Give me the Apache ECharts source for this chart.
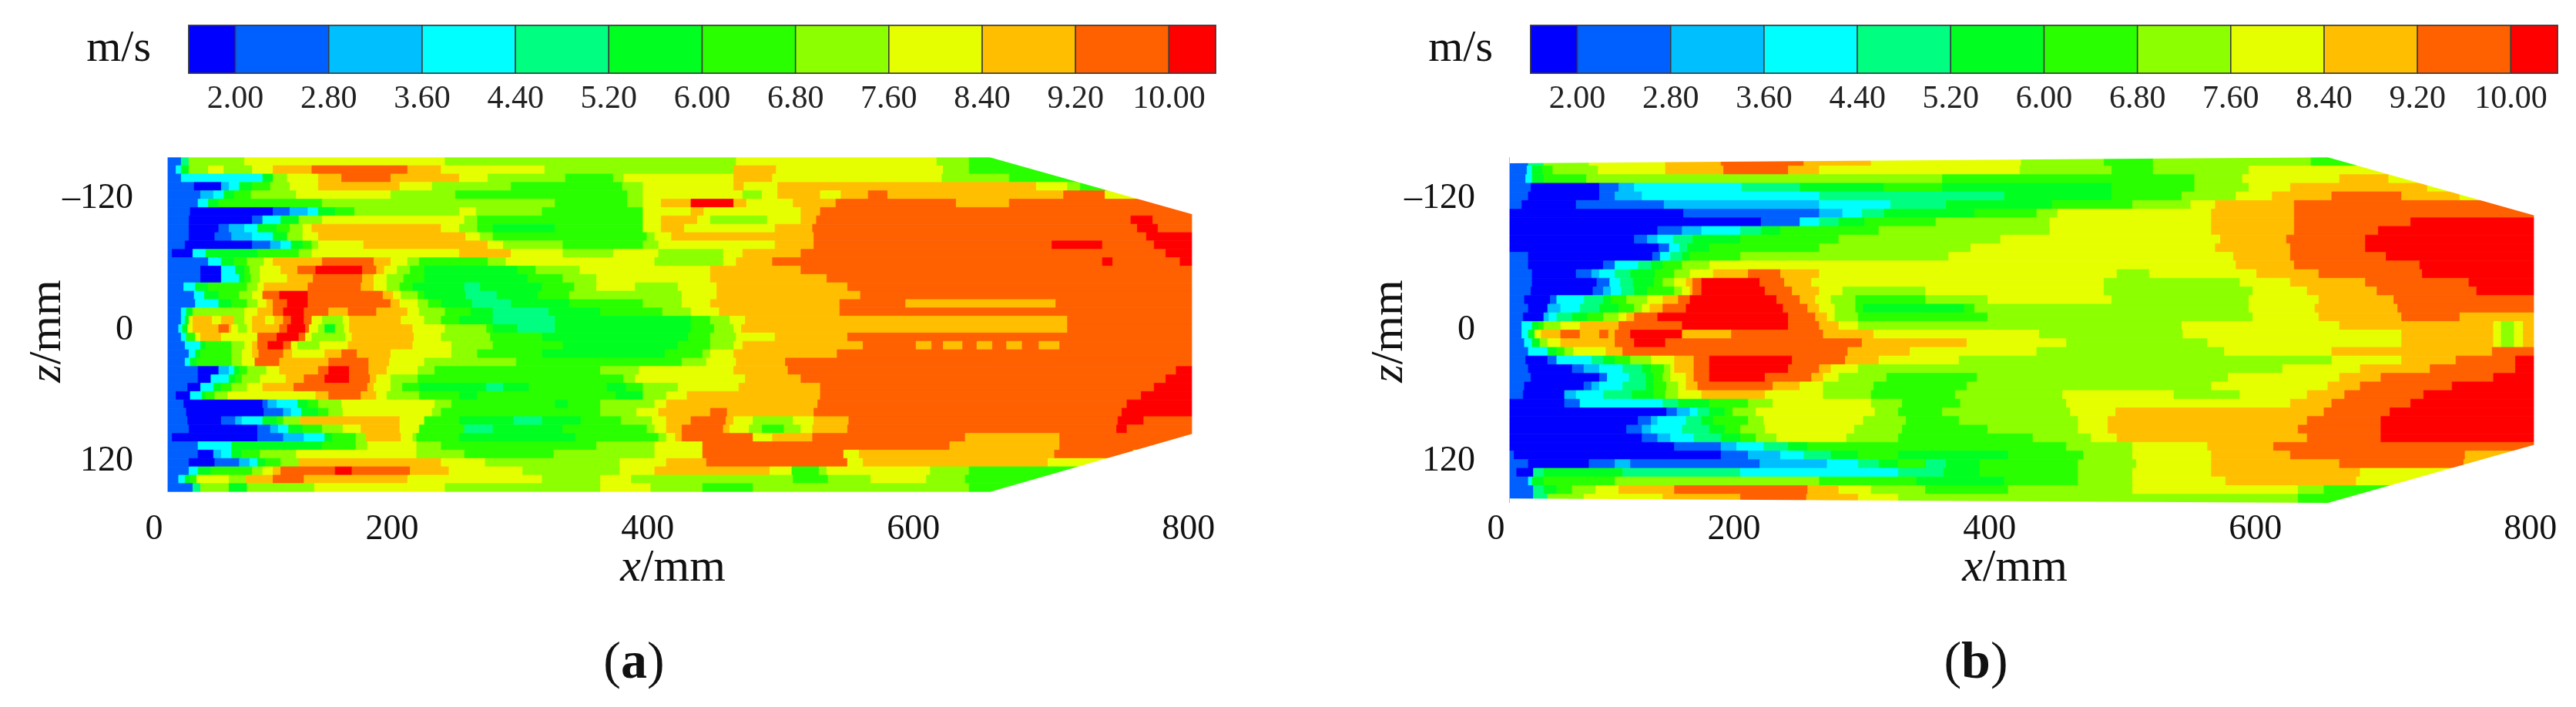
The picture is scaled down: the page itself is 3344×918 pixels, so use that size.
<!DOCTYPE html>
<html>
<head>
<meta charset="utf-8">
<title>velocity contours</title>
<script src="https://cdn.jsdelivr.net/npm/echarts@6/dist/echarts.min.js"></script>
<style>
html, body { margin: 0; padding: 0; background: #fff; }
#main { width: 3344px; height: 918px; filter: blur(0.7px); }
</style>
</head>
<body>
<div id="main"></div>
<script>
// colour bar
const bandEdges = [1.6, 2, 2.8, 3.6, 4.4, 5.2, 6, 6.8, 7.6, 8.4, 9.2, 10, 10.4];
const bandSpeeds = [1.8, 2.4, 3.2, 4, 4.8, 5.6, 6.4, 7.2, 8, 8.8, 9.6, 10.2];
const bandColors = ['#0000ff', '#0060ff', '#00bfff', '#00ffff', '#00ff80', '#00ff20', '#2aff00', '#8cff00', '#e6ff00', '#ffbf00', '#ff6000', '#ff0000'];
const barTicks = [2, 2.8, 3.6, 4.4, 5.2, 6, 6.8, 7.6, 8.4, 9.2, 10];
const xTicks = [0, 200, 400, 600, 800];
const zTicks = [-120, 0, 120];

// nozzle outline, mm
const outlineXA = [10.7, 646, 802];
const outlineTopA = [-158, -158, -106];
const outlineBottomA = [148, 148, 95];
const outlineXB = [10.7, 643, 802];
const outlineTopB = [-152.5, -158, -105];
const outlineBottomB = [154, 158, 105];

// speed, one scan row per line from top to bottom: band, x where it ends, band, x where it ends ...
const scanA = [
  [1,21,4,27,7,70,8,225,7,450,8,605,7,630,6,802],
  [1,17,3,21,5,27,7,42,8,54,7,76,8,92,9,122,10,196,9,222,8,302,7,448,9,481,8,610,7,630,6,802],
  [1,21,3,84,5,92,7,103,8,127,9,145,10,183,9,236,8,258,7,318,6,355,7,363,8,448,9,478,8,609,7,661,6,802],
  [1,31,0,52,2,58,3,66,5,76,6,90,7,105,8,127,9,190,8,215,7,276,6,362,7,378,8,448,9,456,8,482,9,682,8,706,7,716,6,802],
  [1,36,2,46,3,54,5,62,6,75,7,110,8,183,7,233,6,366,7,378,8,455,7,470,8,482,9,515,8,531,9,552,10,567,9,703,10,735,8,802],
  [1,34,3,42,5,50,6,130,7,310,6,366,7,378,8,392,9,415,11,448,9,458,8,494,9,527,10,620,9,661,10,802],
  [1,28,0,92,1,105,2,119,3,127,5,140,6,155,7,236,8,249,7,300,6,378,8,415,9,425,8,500,9,515,10,802],
  [1,27,0,76,1,84,3,98,5,112,7,130,8,240,7,250,6,378,8,392,9,420,8,430,7,474,8,500,9,512,10,755,11,772,10,802],
  [1,27,0,50,1,58,2,70,3,80,5,95,6,105,7,115,8,122,9,222,8,236,7,250,6,262,5,310,6,378,8,392,9,410,8,480,9,509,10,760,11,776,10,802],
  [1,27,0,47,1,60,2,76,3,92,5,103,7,115,8,127,9,241,8,252,7,262,6,381,7,387,8,400,9,510,10,767,11,802],
  [1,24,0,76,1,90,2,98,3,106,5,115,6,122,7,127,8,162,9,258,8,270,7,316,6,378,7,390,8,480,9,510,10,694,11,733,10,773,11,802],
  [1,14,0,30,3,40,5,80,6,112,7,122,8,236,9,276,8,316,7,355,8,390,7,440,8,455,9,500,10,782,11,802],
  [1,42,3,52,5,62,6,72,7,85,8,92,9,130,10,170,9,183,8,196,7,205,6,258,7,272,8,387,7,440,8,450,9,478,10,733,11,741,10,793,11,802],
  [1,36,0,52,3,63,5,70,6,74,7,82,8,98,9,111,10,125,11,161,10,172,9,178,8,188,7,198,6,209,5,281,6,295,7,329,8,430,9,500,10,802],
  [1,36,0,52,3,66,5,70,6,75,7,82,8,103,9,123,10,161,9,170,8,180,7,193,6,209,5,289,6,316,7,342,8,430,9,520,10,802],
  [1,23,3,32,5,42,6,72,7,80,8,85,9,119,10,160,9,170,8,180,7,190,6,200,5,240,4,252,5,300,6,325,7,342,8,372,7,405,8,435,9,536,10,802],
  [1,31,3,39,5,50,6,66,7,76,8,84,10,97,11,119,10,177,9,185,8,191,7,204,6,209,5,241,4,265,5,297,6,321,7,408,8,435,9,546,10,802],
  [1,32,3,50,5,60,6,72,7,80,8,87,9,92,10,103,11,119,10,183,9,190,8,204,7,212,6,222,5,246,4,276,5,321,6,378,7,408,8,430,9,530,10,581,9,697,10,802],
  [1,21,3,25,5,30,7,70,8,80,9,92,10,100,11,116,10,135,9,150,10,172,9,196,8,205,7,225,6,245,5,262,4,305,5,345,6,393,7,415,8,437,9,530,10,802],
  [1,21,3,24,5,27,8,30,9,45,8,52,9,62,7,70,8,76,9,86,8,93,9,100,10,106,11,116,10,122,8,130,7,146,8,151,9,191,8,209,7,222,6,236,5,262,4,310,5,415,6,430,7,445,8,457,9,706,10,802],
  [1,19,3,22,5,26,8,30,9,50,10,58,9,60,8,65,7,72,8,76,9,97,10,103,11,117,10,120,8,127,7,132,5,140,7,147,8,151,9,200,8,225,7,257,6,262,5,281,4,310,5,415,6,433,7,448,8,454,9,706,10,802],
  [1,21,3,25,6,32,8,36,9,52,8,80,10,95,11,112,10,117,8,122,7,148,8,153,9,201,8,222,7,260,6,300,5,413,6,430,7,450,8,480,9,536,10,802],
  [1,24,3,36,5,40,6,60,7,70,8,76,9,80,10,88,11,100,10,106,8,111,7,128,8,150,9,200,8,230,7,262,6,316,5,405,6,430,7,448,8,455,9,548,10,589,9,601,10,610,9,625,10,636,9,648,10,659,9,671,10,684,9,700,10,802],
  [1,27,3,32,5,36,6,60,7,68,8,76,9,81,10,100,9,107,8,132,9,145,10,157,9,183,8,230,7,250,6,300,5,395,6,424,7,430,8,448,9,528,10,802],
  [1,24,3,28,5,33,6,60,7,68,8,78,10,97,9,135,10,166,9,182,8,209,7,280,6,408,7,427,8,450,9,488,10,802],
  [1,34,0,50,2,58,3,62,5,66,6,72,7,87,8,97,9,127,10,135,11,151,10,166,9,180,8,204,7,217,6,345,7,375,8,448,9,490,10,790,11,802],
  [1,34,0,44,3,58,5,63,6,68,7,82,8,102,9,116,10,132,11,151,10,167,9,172,8,183,7,204,6,363,7,372,8,457,9,500,10,782,11,802],
  [1,26,0,36,3,46,5,52,6,60,7,72,8,84,9,108,10,165,9,170,8,183,7,192,6,205,5,257,4,270,5,290,6,350,5,365,6,378,7,405,8,452,9,515,10,773,11,802],
  [1,17,0,28,3,37,5,40,6,47,7,57,8,125,9,135,10,160,9,172,8,180,7,205,6,236,5,250,6,357,5,378,7,396,8,412,9,515,10,763,11,802],
  [1,23,0,84,1,88,2,95,3,111,5,119,6,127,7,145,8,217,7,230,6,310,5,320,6,345,7,387,8,396,9,513,10,752,11,802],
  [1,25,0,85,1,100,2,106,3,114,5,127,6,135,7,146,8,215,7,222,6,345,7,373,8,390,9,430,10,443,9,510,10,748,11,802],
  [1,26,0,52,1,63,2,68,3,84,5,95,6,100,7,113,9,190,8,209,6,236,5,278,4,300,5,330,6,361,7,385,8,396,9,415,10,442,9,448,8,463,7,494,8,510,9,537,10,745,11,765,10,802],
  [1,27,0,80,1,90,2,96,3,104,5,115,6,130,7,146,8,160,9,190,8,205,6,240,4,262,5,316,6,381,7,387,8,396,9,408,10,440,9,445,8,460,7,470,6,487,7,500,8,509,9,536,10,744,11,752,10,802],
  [1,14,0,80,1,100,2,116,3,132,5,138,6,156,7,164,9,191,8,200,7,203,6,236,5,326,6,390,7,396,8,403,9,408,10,463,8,478,9,509,10,627,9,700,10,802],
  [1,34,3,60,5,130,6,156,7,165,8,203,7,222,6,342,7,387,8,424,10,615,9,700,10,802],
  [1,34,0,46,2,52,3,60,5,68,6,82,7,110,8,203,7,240,6,309,7,387,8,424,10,533,8,545,9,696,10,757,8,802],
  [1,27,0,47,1,66,2,74,3,80,5,86,6,98,7,112,9,222,8,256,7,360,8,396,9,427,10,536,8,548,9,691,8,802],
  [1,27,3,34,5,44,6,76,7,84,8,92,9,98,10,140,11,153,10,198,9,228,8,285,7,360,8,387,9,476,8,493,6,514,7,520,8,600,7,630,6,802],
  [1,19,3,24,5,28,6,33,8,58,7,71,9,92,10,116,9,196,8,300,7,345,8,369,7,494,6,521,7,554,8,597,7,627,6,802],
  [1,30,4,36,7,58,5,72,7,124,8,225,7,345,8,384,7,424,6,463,7,630,6,802]
];
const scanB = [
  [1,25,4,37,7,72,8,131,9,174,10,238,9,290,8,406,7,470,6,508,7,630,6,802],
  [1,24,3,28,5,36,6,44,7,79,8,131,9,176,10,226,9,250,8,405,7,476,6,508,7,582,8,802],
  [1,23,3,28,5,37,6,70,7,345,6,540,7,577,8,652,9,690,8,802],
  [1,27,0,80,1,95,2,107,3,190,4,235,5,300,6,345,5,476,6,540,7,582,8,614,9,720,8,802],
  [1,25,0,80,1,92,2,113,3,250,4,393,5,476,6,530,7,572,8,600,9,646,10,700,9,745,8,802],
  [1,20,0,62,1,130,2,250,3,305,4,348,5,430,6,492,7,537,8,556,9,617,10,802],
  [0,145,1,250,2,268,3,283,4,300,5,370,6,418,7,434,8,553,9,617,10,802],
  [0,205,1,235,3,250,4,265,5,285,6,340,7,428,8,553,9,617,10,707,11,802],
  [0,125,1,144,2,159,3,189,4,205,5,220,6,296,7,428,8,553,9,617,10,682,11,802],
  [0,107,1,117,2,125,3,137,4,152,5,189,6,265,7,390,8,560,9,611,10,672,11,802],
  [0,126,1,134,3,142,4,148,5,165,6,250,7,367,8,556,9,614,10,672,11,802],
  [1,25,0,121,1,127,3,135,4,144,5,150,6,189,7,350,8,570,9,614,10,688,11,802],
  [1,25,0,83,1,92,3,110,4,120,5,129,6,144,7,165,8,572,9,617,10,714,11,802],
  [1,28,0,62,1,74,2,80,3,92,4,104,5,123,6,138,7,150,8,168,9,195,10,220,9,250,8,480,7,505,8,588,9,636,10,716,11,802],
  [1,28,0,78,1,88,3,96,4,106,5,122,6,129,7,138,8,147,9,152,10,159,11,204,10,223,9,244,8,470,7,575,8,614,9,672,10,752,11,802],
  [1,27,0,75,1,83,2,89,3,97,4,107,5,117,6,138,7,144,8,150,9,152,10,159,11,208,10,229,9,250,8,268,7,332,8,470,7,585,8,627,9,681,10,758,11,802],
  [1,22,0,42,1,47,3,68,4,83,5,89,6,101,7,117,8,129,9,141,10,150,11,217,10,235,9,247,8,259,7,278,6,332,7,380,8,476,7,582,8,636,9,694,10,802],
  [1,25,0,40,2,50,3,65,4,80,5,95,6,107,7,113,8,119,9,129,10,147,11,222,10,241,9,250,8,262,7,278,6,284,5,362,6,370,7,582,8,633,9,697,10,802],
  [1,21,0,37,2,41,3,47,4,59,5,71,6,83,7,95,8,101,9,107,10,125,11,226,10,247,9,256,8,262,7,280,6,380,7,585,8,636,9,700,10,745,9,802],
  [1,20,3,28,5,33,6,37,7,50,8,65,9,95,10,144,11,226,10,250,9,265,8,280,7,530,8,652,9,771,8,777,7,787,8,794,9,802],
  [1,20,3,25,5,30,8,35,9,50,10,65,9,80,10,87,9,92,10,104,11,144,9,182,10,253,9,292,8,420,7,531,8,700,9,771,8,777,7,787,8,794,9,802],
  [1,22,3,28,5,34,7,40,8,50,9,92,10,107,11,131,10,283,9,364,8,441,7,550,8,700,9,771,8,777,7,787,8,794,9,802],
  [1,25,3,40,5,47,6,53,7,60,8,85,9,98,10,272,9,320,8,418,7,563,8,646,9,770,10,802],
  [1,23,0,40,1,47,3,74,4,83,5,92,6,104,7,120,8,138,9,153,10,165,11,229,10,270,9,296,8,358,7,646,8,700,9,742,10,788,11,802],
  [1,25,0,59,1,68,2,80,3,98,4,113,5,120,6,130,7,135,8,138,9,153,10,165,11,226,10,250,9,259,8,280,7,608,8,668,9,722,10,788,11,802],
  [1,27,0,80,1,86,3,103,4,116,5,122,6,129,7,135,8,147,9,153,10,165,11,208,10,244,9,253,8,265,7,302,6,372,7,566,8,652,9,684,10,771,11,802],
  [1,22,0,68,1,74,2,80,3,98,4,116,5,122,6,132,7,141,8,147,9,156,10,214,9,235,8,253,7,292,6,364,7,553,8,643,9,668,10,739,11,802],
  [1,21,0,53,2,62,3,83,4,105,5,122,6,131,7,141,8,159,9,208,8,253,7,290,6,355,7,438,8,524,7,575,8,627,9,656,10,717,11,802],
  [0,53,1,65,3,129,4,141,5,165,6,195,7,214,8,290,7,314,6,359,7,441,8,614,9,646,10,707,11,802],
  [0,132,1,140,2,150,3,156,4,165,5,177,6,183,7,201,8,293,7,311,6,345,7,444,8,479,9,640,10,691,11,802],
  [0,110,1,120,2,125,3,147,4,159,5,168,6,195,7,207,8,284,7,317,6,358,7,450,8,473,9,627,10,684,11,802],
  [0,101,1,113,2,120,3,144,4,165,5,177,6,189,7,208,8,277,7,314,6,380,7,450,8,473,9,620,10,684,11,802],
  [0,113,1,125,2,135,3,153,4,174,5,189,6,201,7,217,8,271,7,311,6,415,7,460,8,480,9,627,10,684,11,802],
  [0,138,1,174,2,186,3,207,4,226,5,241,6,441,7,492,8,550,9,601,10,802],
  [1,14,0,174,1,195,2,220,3,238,4,259,5,280,6,311,5,396,6,454,7,492,8,553,9,614,10,749,9,802],
  [1,25,0,72,1,92,2,104,1,204,2,256,3,280,4,296,5,311,6,332,4,348,5,374,6,450,7,495,8,553,9,652,10,748,9,802],
  [1,16,0,29,4,37,5,98,4,189,3,311,4,346,5,374,6,450,7,492,8,553,9,668,8,802],
  [1,25,3,28,5,37,6,92,7,250,6,325,5,393,6,450,7,492,8,564,9,665,8,802],
  [1,29,4,37,5,47,6,59,7,77,8,95,9,138,10,241,9,265,8,290,7,332,6,396,7,492,8,620,7,640,6,802],
  [1,29,4,40,7,68,8,129,9,189,10,240,9,280,8,311,7,620,6,802]
];

// label nudges in px, the printed tick labels are not evenly spaced in the picture
const xLabelShift = [0, 27, 31, 22, 1];

const serif = '"Liberation Serif", "Times New Roman", serif';
const zMin = -161, zMax = 163, xMax = 802;

const toCells = (scan, x0, zTop, zBottom) => {
  const h = (zBottom - zTop) / scan.length;
  const cells = [];
  scan.forEach((row, i) => {
    let start = x0;
    for (let k = 0; k < row.length; k += 2) {
      cells.push([start, row[k + 1], zTop + i * h, zTop + (i + 1) * h, bandSpeeds[row[k]]]);
      start = row[k + 1];
    }
  });
  return cells;
};

const renderCell = (params, api) => {
  const a = api.coord([api.value(0), api.value(2)]);
  const b = api.coord([api.value(1), api.value(3)]);
  const color = api.visual('color');
  return {
    type: 'rect',
    shape: { x: a[0], y: a[1], width: b[0] - a[0], height: b[1] - a[1] },
    style: { fill: color, stroke: color, lineWidth: 0.8 }
  };
};
const renderBarCell = (params, api) => {
  const a = api.coord([api.value(0), api.value(3)]);
  const b = api.coord([api.value(1), api.value(2)]);
  return {
    type: 'rect',
    shape: { x: a[0], y: a[1], width: b[0] - a[0], height: b[1] - a[1] },
    style: { fill: api.visual('color'), stroke: '#3a3a3a', lineWidth: 1.5 }
  };
};
// white cover outside the nozzle outline, runs a little past the nozzle end so no cell stroke shows
const renderMask = (xs, top, bottom) => (params, api) => {
  const last = xs.length - 1;
  const poly = (edge, far) => {
    const pts = xs.map((x, i) => api.coord([x, edge[i]]));
    pts.push(api.coord([xs[last] + 3, edge[last]]), api.coord([xs[last] + 3, far]), api.coord([xs[0], far]));
    return { type: 'polygon', shape: { points: pts }, style: { fill: '#fff' } };
  };
  return { type: 'group', children: [poly(top, zMin), poly(bottom, zMax)] };
};

const colorPieces = bandColors.map((c, i) => ({ min: bandEdges[i], max: bandEdges[i + 1], color: c }));
const barCells = bandSpeeds.map((s, i) => [bandEdges[i], bandEdges[i + 1], 0, 1, s]);

const xRich = {
  i: { fontFamily: serif, fontStyle: 'italic', fontSize: 60, color: '#111' }
};
xTicks.forEach((t, i) => {
  xRich['s' + t] = { fontFamily: serif, fontSize: 46, color: '#111', padding: [0, xLabelShift[i] * 2, 0, 0] };
});

const panel = (idx, offset, cells, xs, top, bottom, tag, tagX) => {
  const g = idx * 2;
  return {
    grid: [
      { left: 200 + offset, width: 1347, top: 200, height: 460 },
      { left: 245 + offset, width: 1333, top: 33, height: 62, show: true, borderColor: '#777', borderWidth: 2, backgroundColor: 'transparent' }
    ],
    xAxis: [
      {
        gridIndex: g, type: 'value', min: 0, max: xMax,
        axisLine: { show: false }, axisTick: { show: false }, splitLine: { show: false },
        axisLabel: { customValues: xTicks, margin: 5, formatter: v => `{s${v}|${v}}`, rich: xRich },
        name: '{i|x}/mm', nameLocation: 'middle', nameGap: 48, nameMoveOverlap: false,
        nameTextStyle: { fontFamily: serif, fontSize: 60, color: '#111', rich: xRich }
      },
      {
        gridIndex: g + 1, type: 'value', min: bandEdges[0], max: bandEdges[12],
        axisLine: { show: false }, axisTick: { show: false }, splitLine: { show: false },
        axisLabel: { customValues: barTicks, margin: 13, fontFamily: serif, fontSize: 42, color: '#222', formatter: v => v.toFixed(2) }
      }
    ],
    yAxis: [
      {
        gridIndex: g, type: 'value', min: zMin, max: zMax, inverse: true,
        axisLine: { show: false }, axisTick: { show: false }, splitLine: { show: false },
        axisLabel: { customValues: zTicks, margin: 27, fontFamily: serif, fontSize: 46, color: '#111', formatter: v => (v < 0 ? '\u2013' + (-v) : '' + v) },
        name: '{i|z}/mm', nameLocation: 'middle', nameRotate: 90, nameGap: 108, nameMoveOverlap: false,
        nameTextStyle: { fontFamily: serif, fontSize: 60, color: '#111', rich: { i: { fontFamily: serif, fontStyle: 'italic', fontSize: 60, color: '#111' } } }
      },
      {
        gridIndex: g + 1, type: 'value', min: 0, max: 1,
        axisLine: { show: false }, axisTick: { show: false }, splitLine: { show: false }, axisLabel: { show: false },
        name: 'm/s', nameLocation: 'middle', nameRotate: 0, nameGap: 49,
        nameTextStyle: { fontFamily: serif, fontSize: 58, color: '#111' }
      }
    ],
    series: [
      { type: 'custom', name: 'speed ' + tag, xAxisIndex: g, yAxisIndex: g, data: cells, renderItem: renderCell, encode: { x: [0, 1], y: [2, 3] }, silent: true, animation: false, z: 2 },
      { type: 'custom', name: 'colour bar ' + tag, xAxisIndex: g + 1, yAxisIndex: g + 1, data: barCells, renderItem: renderBarCell, encode: { x: [0, 1], y: [2, 3] }, silent: true, animation: false, z: 2 },
      { type: 'custom', name: 'outline ' + tag, xAxisIndex: g, yAxisIndex: g, data: [[0, 0]], renderItem: renderMask(xs, top, bottom), silent: true, animation: false, z: 3 }
    ],
    title: {
      text: `({b|${tag}})`, left: tagX, top: 823, textAlign: 'center',
      textStyle: { fontFamily: serif, fontSize: 68, fontWeight: 'normal', color: '#111', rich: { b: { fontFamily: serif, fontSize: 68, fontWeight: 'bold', color: '#111' } } }
    }
  };
};

const pA = panel(0, 0, toCells(scanA, outlineXA[0], -158, 148), outlineXA, outlineTopA, outlineBottomA, 'a', 818);
const pB = panel(1, 1742, toCells(scanB, outlineXB[0], -158, 158), outlineXB, outlineTopB, outlineBottomB, 'b', 2560);

const chart = echarts.init(document.getElementById('main'), null, { renderer: 'canvas' });
chart.setOption({
  backgroundColor: '#fff',
  animation: false,
  title: [pA.title, pB.title],
  grid: [...pA.grid, ...pB.grid],
  xAxis: [...pA.xAxis, ...pB.xAxis],
  yAxis: [...pA.yAxis, ...pB.yAxis],
  visualMap: { show: false, type: 'piecewise', dimension: 4, seriesIndex: [0, 1, 3, 4], pieces: colorPieces },
  series: [...pA.series, ...pB.series]
});
</script>
</body>
</html>
